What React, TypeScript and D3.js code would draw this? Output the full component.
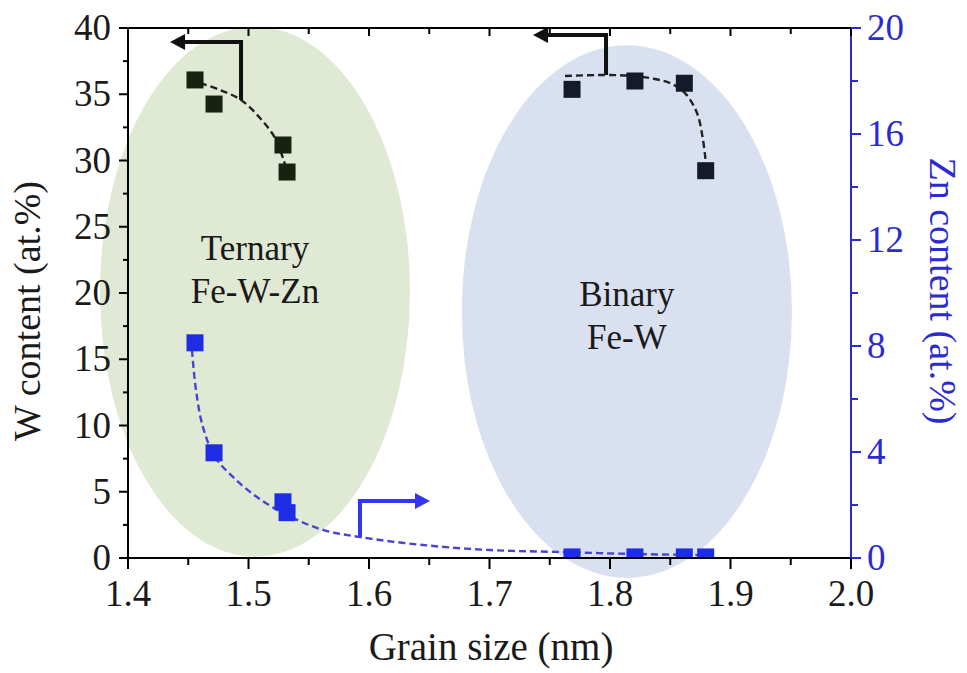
import React from 'react';
import * as d3 from 'd3';

// Grain size (nm) for each sample
const ternaryGrain = [1.4556, 1.4714, 1.5286, 1.532];
const binaryGrain = [1.7685, 1.8207, 1.8617, 1.8794];

// W content (at.%) - left axis
const ternaryW = [36.08, 34.26, 31.17, 29.13];
const binaryW = [35.37, 36.0, 35.83, 29.23];

// Zn content (at.%) - right axis
const ternaryZn = [8.12, 3.97, 2.12, 1.71];
const binaryZn = [0.04, 0.04, 0.04, 0.04];

// dashed guide curves: [grain, value]
const ternaryWFit: [number, number][] = [
  [1.4598, 35.85], [1.4763, 35.32], [1.4938, 34.57], [1.5095, 33.21],
  [1.522, 31.7], [1.5286, 30.19], [1.532, 29.13],
];
const binaryWFit: [number, number][] = [
  [1.7627, 36.38], [1.795, 36.45], [1.8191, 36.38], [1.8373, 36.15],
  [1.8498, 35.85], [1.8622, 35.09], [1.8722, 33.58], [1.8772, 31.55], [1.8797, 29.66],
];
const znFit: [number, number][] = [
  [1.4531, 7.85], [1.4564, 6.34], [1.4622, 4.94], [1.4722, 3.81], [1.4871, 3.06],
  [1.507, 2.3], [1.532, 1.62], [1.5618, 1.06], [1.5925, 0.79], [1.6448, 0.49],
  [1.7004, 0.3], [1.756, 0.23], [1.8207, 0.15], [1.8797, 0.11],
];

// shaded regions (grain, W content)
const regions = [
  { cx: 1.5054, cy: 20.1, rx: 0.1286, ry: 20.0, color: '#dfe9d3', lines: ['Ternary', 'Fe-W-Zn'], ly: 22.5 },
  { cx: 1.814, cy: 18.6, rx: 0.137, ry: 20.1, color: '#d9e0f0', lines: ['Binary', 'Fe-W'], ly: 19.0 },
];

// axis arrows: [x at curve, y at curve, y of corner, x of tip]
const wArrows = [
  { x: 1.4938, y0: 34.57, y1: 38.94, tip: 1.4349 },
  { x: 1.7967, y0: 36.45, y1: 39.47, tip: 1.7361 },
];
const znArrow = { x: 1.5925, y0: 0.79, y1: 2.15, tip: 1.6506 };

const xTicks = [1.4, 1.5, 1.6, 1.7, 1.8, 1.9, 2.0];
const wTicks = [0, 5, 10, 15, 20, 25, 30, 35, 40];
const znTicks = [0, 4, 8, 12, 16, 20];

const W = 967;
const H = 673;
const L = 128, R = 851, T = 28, B = 558;
const FONT = '"Liberation Serif", "Times New Roman", serif';
const BLUE = '#2b2bd0';
const INK = '#1a1a1a';

export default function App() {
  const x = d3.scaleLinear().domain([1.4, 2.0]).range([L, R]);
  const yW = d3.scaleLinear().domain([0, 40]).range([B, T]);
  const yZn = d3.scaleLinear().domain([0, 20]).range([B, T]);

  const lineW = d3.line<[number, number]>().x(d => x(d[0])).y(d => yW(d[1])).curve(d3.curveCatmullRom);
  const lineZn = d3.line<[number, number]>().x(d => x(d[0])).y(d => yZn(d[1])).curve(d3.curveCatmullRom);

  const xMinor = d3.range(1.45, 2.0, 0.1);
  const wMinor = d3.range(2.5, 40, 5);
  const znMinor = d3.range(2, 20, 4);
  const sq = 17;

  const arrowHead = (tx: number, ty: number, dir: number, color: string) => (
    <path d={`M${tx},${ty} L${tx - dir * 15},${ty - 8} L${tx - dir * 15},${ty + 8} Z`} fill={color} />
  );

  return (
    <svg width={W} height={H} style={{ position: 'absolute', left: 0, top: 0, background: '#fff' }} fontFamily={FONT}>
      <defs>
        <clipPath id="plot">
          <rect x={L} y={T} width={R - L} height={B - T} />
        </clipPath>
      </defs>

      {regions.map((r, i) => (
        <ellipse key={i} cx={x(r.cx)} cy={yW(r.cy)} rx={x(r.cx + r.rx) - x(r.cx)} ry={yW(0) - yW(r.ry)} fill={r.color} />
      ))}
      {regions.map((r, i) =>
        r.lines.map((t, j) => (
          <text key={`${i}-${j}`} x={x(r.cx)} y={yW(r.ly) + j * 43} textAnchor="middle" fontSize={35} fill={INK}>{t}</text>
        ))
      )}

      {/* dashed guides */}
      <path d={lineW(ternaryWFit) || ''} fill="none" stroke="#222" strokeWidth={2.4} strokeDasharray="7,4" />
      <path d={lineW(binaryWFit) || ''} fill="none" stroke="#222" strokeWidth={2.4} strokeDasharray="7,4" />
      <path d={lineZn(znFit) || ''} fill="none" stroke="#4545d2" strokeWidth={2.4} strokeDasharray="7,4" />

      {/* markers */}
      <g clipPath="url(#plot)">
        {ternaryGrain.map((g, i) => (
          <rect key={`tw${i}`} x={x(g) - sq / 2} y={yW(ternaryW[i]) - sq / 2} width={sq} height={sq} fill="#17220f" />
        ))}
        {binaryGrain.map((g, i) => (
          <rect key={`bw${i}`} x={x(g) - sq / 2} y={yW(binaryW[i]) - sq / 2} width={sq} height={sq} fill="#141a2a" />
        ))}
        {ternaryGrain.map((g, i) => (
          <rect key={`tz${i}`} x={x(g) - sq / 2} y={yZn(ternaryZn[i]) - sq / 2} width={sq} height={sq} fill="#1d2de3" />
        ))}
        {binaryGrain.map((g, i) => (
          <rect key={`bz${i}`} x={x(g) - sq / 2} y={yZn(binaryZn[i]) - sq / 2} width={sq} height={sq} fill="#1d2de3" />
        ))}
      </g>

      {/* arrows */}
      {wArrows.map((a, i) => (
        <g key={i}>
          <path d={`M${x(a.x)},${yW(a.y0)} V${yW(a.y1)} H${x(a.tip) + 12}`} fill="none" stroke="#111" strokeWidth={4} />
          {arrowHead(x(a.tip), yW(a.y1), -1, '#111')}
        </g>
      ))}
      <path d={`M${x(znArrow.x)},${yZn(znArrow.y0)} V${yZn(znArrow.y1)} H${x(znArrow.tip) - 12}`} fill="none" stroke="#3535ee" strokeWidth={4} />
      {arrowHead(x(znArrow.tip), yZn(znArrow.y1), 1, '#3535ee')}

      {/* frame */}
      <line x1={L} x2={R} y1={T} y2={T} stroke="#000" strokeWidth={2} />
      <line x1={L} x2={R} y1={B} y2={B} stroke="#000" strokeWidth={2} />
      <line x1={L} x2={L} y1={T} y2={B} stroke="#000" strokeWidth={2} />
      <line x1={R} x2={R} y1={T} y2={B} stroke={BLUE} strokeWidth={2} />

      {/* x ticks: bottom outward, top inward */}
      {xTicks.map(t => (
        <g key={`x${t}`}>
          <line x1={x(t)} x2={x(t)} y1={B} y2={B + 11} stroke="#000" strokeWidth={2} />
          <line x1={x(t)} x2={x(t)} y1={T} y2={T + 8} stroke="#000" strokeWidth={2} />
          <text x={x(t)} y={606} textAnchor="middle" fontSize={37} fill={INK}>{t.toFixed(1)}</text>
        </g>
      ))}
      {xMinor.map(t => (
        <g key={`xm${t}`}>
          <line x1={x(t)} x2={x(t)} y1={B} y2={B + 7} stroke="#000" strokeWidth={2} />
          <line x1={x(t)} x2={x(t)} y1={T} y2={T + 6} stroke="#000" strokeWidth={2} />
        </g>
      ))}

      {/* left axis */}
      {wTicks.map(t => (
        <g key={`w${t}`}>
          <line x1={L - 9} x2={L} y1={yW(t)} y2={yW(t)} stroke="#000" strokeWidth={2} />
          <text x={111} y={yW(t) + 12} textAnchor="end" fontSize={37} fill={INK}>{t}</text>
        </g>
      ))}
      {wMinor.map(t => (
        <line key={`wm${t}`} x1={L - 5} x2={L} y1={yW(t)} y2={yW(t)} stroke="#000" strokeWidth={2} />
      ))}

      {/* right axis */}
      {znTicks.map(t => (
        <g key={`z${t}`}>
          <line x1={R} x2={R + 10} y1={yZn(t)} y2={yZn(t)} stroke={BLUE} strokeWidth={2} />
          <text x={867} y={yZn(t) + 12} textAnchor="start" fontSize={37} fill={BLUE}>{t}</text>
        </g>
      ))}
      {znMinor.map(t => (
        <line key={`zm${t}`} x1={R} x2={R + 7} y1={yZn(t)} y2={yZn(t)} stroke={BLUE} strokeWidth={2} />
      ))}

      {/* axis titles */}
      <text x={491} y={660} textAnchor="middle" fontSize={39} fill={INK}>Grain size (nm)</text>
      <text transform="translate(40,311) rotate(-90)" textAnchor="middle" fontSize={38} fill={INK}>W content (at.%)</text>
      <text transform="translate(930,291) rotate(90)" textAnchor="middle" fontSize={38} fill={BLUE}>Zn content (at.%)</text>
    </svg>
  );
}
